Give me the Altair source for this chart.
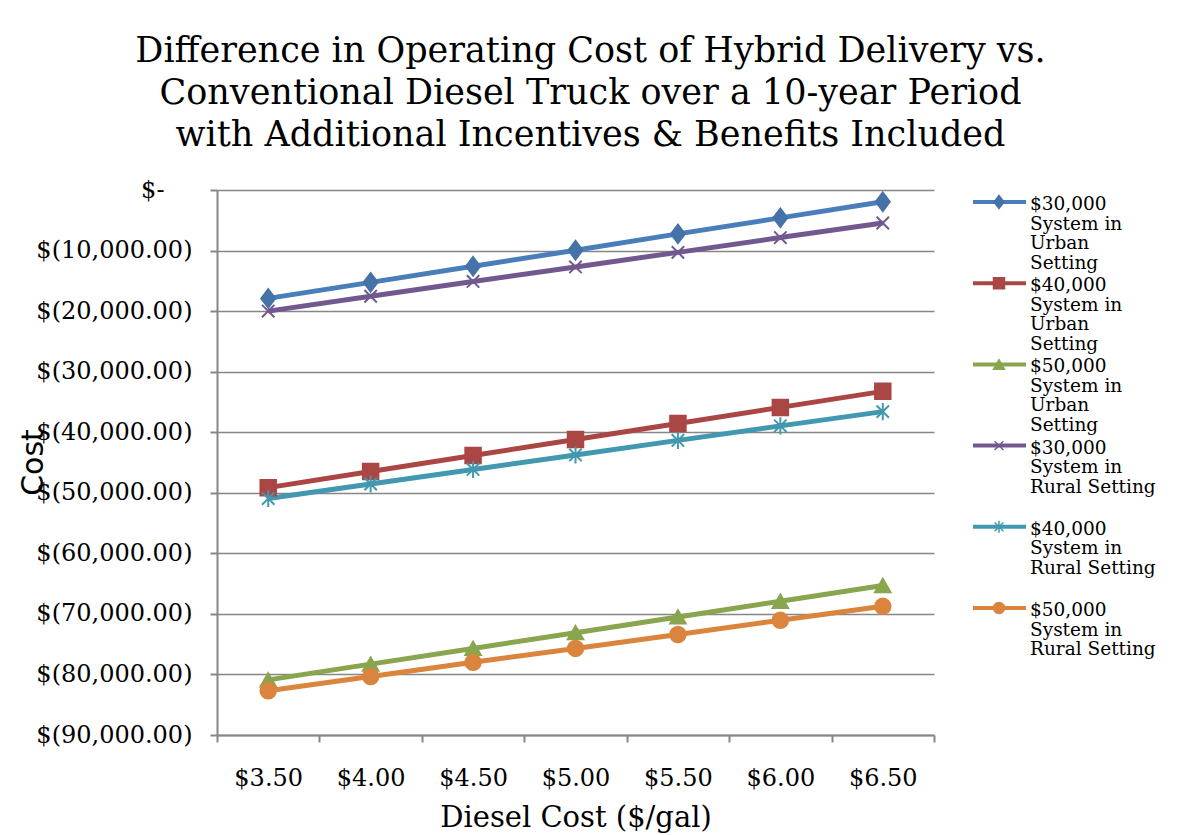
import altair as alt
import pandas as pd

# ---------------- data ----------------
diesel_cost = ["$3.50", "$4.00", "$4.50", "$5.00", "$5.50", "$6.00", "$6.50"]

series_names = [
    "$30,000 System in Urban Setting",
    "$40,000 System in Urban Setting",
    "$50,000 System in Urban Setting",
    "$30,000 System in Rural Setting",
    "$40,000 System in Rural Setting",
    "$50,000 System in Rural Setting",
]
legend_labels = [
    "$30,000\nSystem in\nUrban\nSetting",
    "$40,000\nSystem in\nUrban\nSetting",
    "$50,000\nSystem in\nUrban\nSetting",
    "$30,000\nSystem in\nRural Setting",
    "$40,000\nSystem in\nRural Setting",
    "$50,000\nSystem in\nRural Setting",
]

urban_30k = [-17900, -15250, -12600, -9950, -7250, -4600, -1950]
urban_40k = [-49150, -46500, -43850, -41200, -38550, -35900, -33250]
urban_50k = [-80900, -78300, -75700, -73100, -70500, -67900, -65300]
rural_30k = [-20000, -17550, -15100, -12700, -10300, -7850, -5450]
rural_40k = [-50950, -48550, -46150, -43750, -41350, -38950, -36600]
rural_50k = [-82700, -80350, -78000, -75700, -73400, -71050, -68750]

series_values = [urban_30k, urban_40k, urban_50k, rural_30k, rural_40k, rural_50k]

y_ticks = [-90000, -80000, -70000, -60000, -50000, -40000, -30000, -20000, -10000, 0]

title_lines = [
    "Difference in Operating Cost of Hybrid Delivery vs.",
    "Conventional Diesel Truck over a 10-year Period",
    "with Additional Incentives & Benefits Included",
]

# ---------------- styles ----------------
line_colors = ["#4A7EBB", "#AA4643", "#89A54E", "#71588F", "#4198AF", "#DB843D"]
marker_colors = ["#4572A7", "#AA4643", "#89A54E", "#71588F", "#4198AF", "#DB843D"]
marker_shapes = [
    "M0,-1.2L0.9,0L0,1.2L-0.9,0Z",                       # diamond
    "square",
    "triangle-up",
    "M-0.8,-0.8L0.8,0.8M-0.8,0.8L0.8,-0.8",              # x
    "M-0.8,-0.8L0.8,0.8M-0.8,0.8L0.8,-0.8M0,-1.1L0,1.1",  # asterisk
    "circle",
]

SERIF = "DejaVu Serif"
GRAY = "#868686"

rows = []
for name, vals in zip(series_names, series_values):
    for d, v in zip(diesel_cost, vals):
        rows.append({"series": name, "diesel": d, "cost": v})
df = pd.DataFrame(rows)

color_scale = alt.Scale(domain=series_names, range=line_colors)
marker_scale = alt.Scale(domain=series_names, range=marker_colors)
shape_scale = alt.Scale(domain=series_names, range=marker_shapes)

label_expr = (
    "datum.value == 0 ? '$-' : "
    "'$(' + format(abs(datum.value), ',.2f') + ')'"
)

base = alt.Chart(df).encode(
    x=alt.X(
        "diesel:N",
        sort=diesel_cost,
        scale=alt.Scale(type="band", paddingInner=0, paddingOuter=0),
        axis=alt.Axis(
            title="Diesel Cost ($/gal)",
            titleFont=SERIF,
            titleFontSize=29,
            titleFontWeight="normal",
            titleColor="black",
            titleBaseline="alphabetic",
            titleY=91,
            labelAngle=0,
            labelFont=SERIF,
            labelFontSize=24,
            labelColor="black",
            labelPadding=24,
            tickBand="extent",
            tickSize=7,
            tickWidth=2,
            tickColor=GRAY,
            domainColor=GRAY,
            domainWidth=2,
            grid=False,
        ),
    ),
    y=alt.Y(
        "cost:Q",
        scale=alt.Scale(domain=[-90000, 0], nice=False, zero=False),
        axis=alt.Axis(
            values=y_ticks,
            labelExpr=label_expr,
            title="Cost",
            titleFont="DejaVu Sans",
            titleFontSize=30,
            titleFontWeight="normal",
            titleColor="black",
            titleAngle=270,
            titleAlign="center",
            titleBaseline="alphabetic",
            titleX=-175,
            titleY=272,
            labelFont=SERIF,
            labelFontSize=24,
            labelColor="black",
            labelPadding={"condition": {"test": "datum.value == 0", "value": 46}, "value": 18},
            tickSize=7,
            tickWidth=2,
            tickColor=GRAY,
            domainColor=GRAY,
            domainWidth=2,
            grid=True,
            gridColor=GRAY,
            gridWidth=1.5,
        ),
    ),
)

lines = base.mark_line(strokeWidth=5).encode(
    color=alt.Color("series:N", scale=color_scale, legend=None)
)
points = base.mark_point(filled=True, size=240, strokeWidth=2, opacity=1).encode(
    fill=alt.Fill("series:N", scale=marker_scale, legend=None),
    stroke=alt.Stroke("series:N", scale=marker_scale, legend=None),
    shape=alt.Shape("series:N", scale=shape_scale, legend=None),
)

main = alt.layer(lines, points).properties(width=717, height=545)

# ---------------- custom legend ----------------
legend_df = pd.DataFrame(
    {"series": series_names, "idx": list(range(len(series_names))), "label": legend_labels}
)
leg_base = alt.Chart(legend_df).encode(
    y=alt.Y(
        "idx:Q",
        scale=alt.Scale(domain=[-0.148, 6.564], reverse=True, nice=False, zero=False),
        axis=None,
    )
)
leg_rule = leg_base.mark_rule(strokeWidth=4).encode(
    x=alt.value(0),
    x2=alt.value(53),
    color=alt.Color("series:N", scale=color_scale, legend=None),
)
leg_pts = leg_base.mark_point(filled=True, size=120, strokeWidth=1.5, opacity=1).encode(
    x=alt.value(26),
    fill=alt.Fill("series:N", scale=marker_scale, legend=None),
    stroke=alt.Stroke("series:N", scale=marker_scale, legend=None),
    shape=alt.Shape("series:N", scale=shape_scale, legend=None),
)
leg_text = leg_base.mark_text(
    align="left",
    baseline="alphabetic",
    dy=8,
    lineBreak="\n",
    lineHeight=19.5,
    fontSize=18.5,
    font=SERIF,
    color="black",
).encode(x=alt.value(57), text="label:N")

legend = alt.layer(leg_rule, leg_pts, leg_text).properties(width=190, height=545)

chart = (
    alt.hconcat(main, legend, spacing=36)
    .properties(
        title=alt.TitleParams(
            text=title_lines,
            font=SERIF,
            fontSize=35,
            fontWeight="normal",
            lineHeight=42,
            color="black",
            anchor="middle",
            offset=25,
        ),
        padding={"left": 10, "top": 26, "right": 5, "bottom": 5},
    )
    .configure_view(strokeWidth=0)
)

chart.save("out.html", embed_options={"renderer": "svg", "actions": False})
